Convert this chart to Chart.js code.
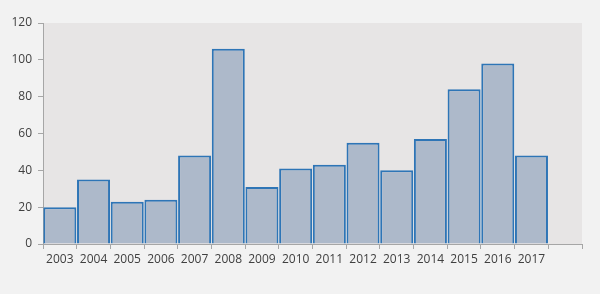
<!DOCTYPE html>
<html>
<head>
<meta charset="utf-8">
<script src="https://cdn.jsdelivr.net/npm/chart.js@4/dist/chart.umd.min.js"></script>
<style>
  html, body { margin: 0; padding: 0; background: #f2f2f2; }
  #wrap { width: 600px; height: 294px; }
</style>
</head>
<body>
<div id="wrap"><canvas id="yearChart" width="600" height="294"></canvas></div>
<script>
// one empty slot at the end, as in the original
const years = ['2003', '2004', '2005', '2006', '2007', '2008', '2009', '2010',
  '2011', '2012', '2013', '2014', '2015', '2016', '2017', ''];
const counts = [20, 35, 23, 24, 48, 106, 31, 41, 43, 55, 40, 57, 84, 98, 48, null];
const yTicks = [0, 20, 40, 60, 80, 100, 120];

const axisColor = '#a6a6a6';
const textColor = '#404040';

const plotBg = {
  id: 'plotBg',
  beforeDraw(chart) {
    const { ctx, chartArea: a } = chart;
    ctx.save();
    ctx.fillStyle = '#e7e5e5';
    ctx.fillRect(a.left, a.top, a.right - a.left, a.bottom - a.top);
    ctx.restore();
  }
};

const ctx = document.getElementById('yearChart').getContext('2d');
const yearChart = new Chart(ctx, {
  type: 'bar',
  data: {
    labels: years,
    datasets: [{
      data: counts,
      backgroundColor: '#adb9ca',
      borderColor: '#2e75b6',
      borderWidth: 2,
      categoryPercentage: 1,
      barPercentage: 0.98
    }]
  },
  options: {
    responsive: false,
    animation: false,
    layout: { padding: { top: 23, right: 18, left: 0, bottom: 0 } },
    plugins: { legend: { display: false }, tooltip: { enabled: false } },
    scales: {
      x: {
        grid: { display: true, offset: true, drawOnChartArea: false, drawTicks: true, tickLength: 5, color: axisColor },
        border: { color: axisColor, width: 1 },
        ticks: { color: textColor, font: { family: 'Open Sans', size: 12 }, padding: 3, maxRotation: 0, autoSkip: false },
        afterFit(scale) { scale.height = 50; }
      },
      y: {
        min: 0,
        max: 120,
        afterBuildTicks(scale) { scale.ticks = yTicks.map(v => ({ value: v })); },
        grid: { display: true, drawOnChartArea: false, drawTicks: true, tickLength: 5, color: axisColor },
        border: { color: axisColor, width: 1 },
        ticks: { color: textColor, font: { family: 'Open Sans', size: 12 }, padding: 6 },
        afterFit(scale) { scale.width = 43; }
      }
    }
  },
  plugins: [plotBg]
});
</script>
</body>
</html>
